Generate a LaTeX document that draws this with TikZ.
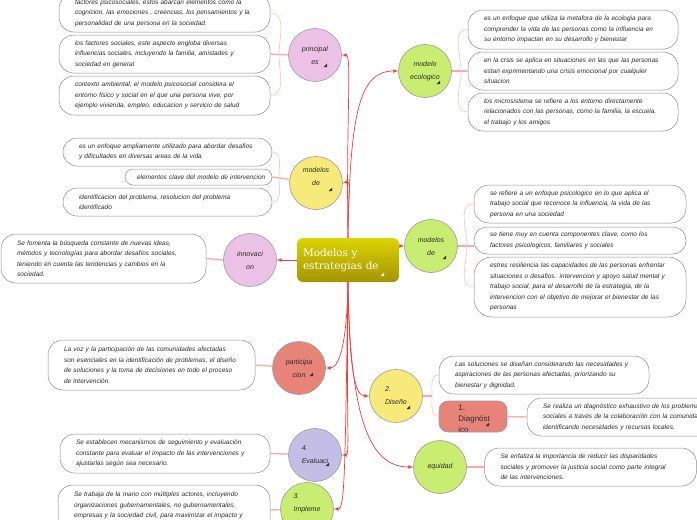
\documentclass[tikz,border=0pt]{standalone}
\usepackage{fontspec}
\setsansfont{Liberation Sans}
\newfontfamily\rootfont{DejaVu Serif}
\usepackage{tikz}
\usetikzlibrary{%
	arrows,%
	shapes
}

\definecolor{linkred}{HTML}{F23C3C}
\definecolor{branchpink}{HTML}{FFA8A8}
\definecolor{bracepink}{HTML}{FFC4C4}
\definecolor{boxgray}{HTML}{8C8C8C}
\definecolor{ringgray}{HTML}{9C9C9C}
\definecolor{pinkc}{HTML}{ECC1E6}
\definecolor{yellowc}{HTML}{F7EA7B}
\definecolor{salmonc}{HTML}{E8837A}
\definecolor{lilacc}{HTML}{C4BEE6}
\definecolor{greenc}{HTML}{C9ED71}
\definecolor{rootlight}{HTML}{DCD300}
\definecolor{rootdark}{HTML}{A39500}
\definecolor{inktext}{HTML}{2B2B2B}

\tikzset{
	root/.style={rectangle, rounded corners=6pt, top color=rootlight, bottom color=rootdark,
		minimum width=102pt, minimum height=44pt, text width=90pt, inner xsep=6pt,
		align=left, text=white, font=\rootfont\fontsize{10.5}{13}\selectfont},
	topic/.style={circle, draw=ringgray, line width=0.6pt, minimum size=53pt, inner sep=0pt,
		align=center, text=inktext, font=\sffamily\itshape\fontsize{7}{13}\selectfont},
	note/.style={draw=boxgray, fill=white, line width=0.5pt, rounded corners=15pt,
		inner xsep=16pt, inner ysep=2pt, align=left, text=inktext,
		font=\sffamily\itshape\fontsize{6.5}{10.5}\selectfont},
	link/.style={draw=linkred, line width=0.7pt, -latex},
	branch/.style={draw=branchpink, line width=1.3pt},
	brace/.style={draw=bracepink, line width=0.7pt}
}

% small fold marker in the corner of a topic
\newcommand{\foldmark}[3][black!80]{\fill[#1] ([shift={#3}]#2.center) -- ++(0,3.5) -- ++(-3.5,-3.5) -- cycle;}

\begin{document}
\begin{tikzpicture}[x=1pt,y=1pt]
	\useasboundingbox (0,0) rectangle (697,-520);

	% Central topic
	\node[root] (root) at (348,-260) {Modelos y\\estrategias de};
	\foldmark[white]{root}{(36,-16)}

	% Topics on the left
	\node[topic, fill=pinkc] (princ) at (315,-55) {principal\\es};
	\node[topic, fill=yellowc] (mleft) at (316,-183) {modelos\\de\\\mbox{}};
	\node[topic, fill=pinkc] (innov) at (250,-260) {innovaci\\on};
	\node[topic, fill=salmonc] (partic) at (299,-368) {participa\\cion};
	\node[topic, fill=lilacc, align=left] (eval) at (315,-455) {4.\\Evaluaci};
	\node[topic, fill=greenc, align=left] (impl) at (307,-509) {3.\\Impleme\\\mbox{}};
	\foldmark{princ}{(12,-12)}
	\foldmark{mleft}{(16,-8)}
	\foldmark{partic}{(14,-8)}
	\foldmark{eval}{(14,-11)}

	% Topics on the right
	\node[topic, fill=greenc] (eco) at (425,-71) {modelo\\ecologico};
	\node[topic, fill=greenc] (mright) at (431,-246) {modelos\\de};
	\node[topic, fill=yellowc, align=left] (dis) at (396,-396) {2.\\Diseño};
	\node[topic, fill=greenc] (equi) at (440,-467) {equidad};
	\node[rectangle, rounded corners=9pt, fill=salmonc, draw=ringgray, line width=0.6pt,
		minimum width=68pt, minimum height=31pt,
		path picture={\node[anchor=north west, align=left, inner sep=0pt, text=inktext,
			draw=none, fill=none, minimum width=0pt, minimum height=0pt,
			font=\sffamily\fontsize{8}{11}\selectfont] (diagtxt)
			at ([xshift=19pt,yshift=-3.5pt]path picture bounding box.north west) {1.\\Diagnóst\\ico};}]
		(diag) at (473,-416.5) {};
	\foldmark{eco}{(15,-13)}
	\foldmark{mright}{(15,-13)}
	\foldmark{dis}{(14,-13)}
	\foldmark{diag}{(16,-9.5)}

	% Notes on the left
	\node[note, text width=179pt, minimum height=38pt] (L1) at (164.5,-13) {factores psicosociales, estos abarcan elementos como la\\cognicion, las emociones , creencias, los pensamientos y la\\personalidad de una persona en la sociedad.};
	\node[note, text width=179pt, minimum height=38pt] (L2) at (164.5,-54) {los factores sociales, este aspecto  engloba diversas\\influencias sociales, incluyendo la familia, amistades y\\sociedad en general};
	\node[note, text width=179pt, minimum height=39pt] (L3) at (164.5,-95.5) {contexto ambiental, el modelo psicosocial considera el\\entorno fisico y social en el que una persona vive, por\\ejemplo vivienda, empleo, educacion y servicio de salud};
	\node[note, text width=177pt, minimum height=28pt, rounded corners=14pt] (M1) at (167.5,-152) {es un enfoque ampliamente utilizado para abordar desafios\\y dificultades en diversas areas de la vida};
	\node[note, text width=139pt, inner xsep=4pt, minimum height=16pt, rounded corners=8pt] (M2) at (198.5,-177) {\hspace*{8pt}elementos clave del modelo de intervencion};
	\node[note, text width=177pt, minimum height=28pt, rounded corners=14pt] (M3) at (167.5,-202) {identificacion del problema, resolucion del problema\\identificado};
	\node[note, text width=173pt, minimum height=49pt] (I) at (103.5,-258.5) {Se fomenta la búsqueda constante de nuevas ideas,\\métodos y tecnologías para abordar desafíos sociales,\\teniendo en cuenta las tendencias y cambios en la\\sociedad.};
	\node[note, text width=175pt, minimum height=50pt] (P) at (151.5,-365) {La voz y la participación de las comunidades afectadas\\son esenciales en la identificación de problemas, el diseño\\de soluciones y la toma de decisiones en todo el proceso\\de intervención.};
	\node[note, text width=178pt, minimum height=39pt] (E) at (165,-453.5) {Se establecen mecanismos de seguimiento y evaluación\\constante para evaluar el impacto de las intervenciones y\\ajustarlas según sea necesario.};
	\node[note, text width=180pt, minimum height=50pt] (Imp) at (164,-510) {Se trabaja de la mano con múltiples actores, incluyendo\\organizaciones gubernamentales, no gubernamentales,\\empresas y la sociedad civil, para maximizar el impacto y\\\mbox{}};

	% Notes on the right
	\node[note, text width=178pt, minimum height=39pt] (R1) at (573,-29.5) {es un enfoque que utiliza la metafora de la ecologia para\\comprender la vida de las personas como la influencia en\\su entorno impactan en su desarrollo y bienestar};
	\node[note, text width=178pt, minimum height=38pt] (R2) at (573,-71) {en la crsis se aplica en situaciones en las que las personas\\estan exprimentando una crisis emocional por cualquier\\situacion};
	\node[note, text width=178pt, minimum height=38pt] (R3) at (573,-112) {los microsistema se refiere a los entorno directamente\\relacionados con las personas, como la familia, la escuela,\\el trabajo y los amigos};
	\node[note, text width=180pt, minimum height=38pt] (S1) at (580,-204) {se refiere a un enfoque psicologico en lo que aplica el\\trabajo social que reconoce la influencia, la vida de las\\persona en una sociedad};
	\node[note, text width=180pt, minimum height=27pt, rounded corners=13pt] (S2) at (580,-240.5) {se tiene muy en cuenta componentes clave, como los\\factores psicologicos, familiares y sociales};
	\node[note, text width=180pt, minimum height=60pt, rounded corners=18pt] (S3) at (580,-287) {estres resiliencia las capacidades de las personas enfrentar\\situaciones o desafios. intervencion y apoyo salud mental y\\trabajo social, para el desarrollo de la estrategia, de la\\intervencion con el objetivo de mejorar el bienestar de las\\personas};
	\node[note, text width=178pt, minimum height=38pt] (D) at (544,-375) {Las soluciones se diseñan considerando las necesidades y\\aspiraciones de las personas afectadas, priorizando su\\bienestar y dignidad.};
	\node[note, text width=178pt, minimum height=38pt] (DT) at (632,-417) {Se realiza un diagnóstico exhaustivo de los problemas\\sociales a través de la colaboración con la comunidad,\\identificando necesidades y recursos locales.};
	\node[note, text width=180pt, minimum height=38pt] (Eq) at (590.5,-467) {Se enfatiza la importancia de reducir las disparidades\\sociales y promover la justicia social como parte integral\\de las intervenciones.};

	% Links from the central topic
	\draw[link] (root.north) .. controls (346,-120) and (352,-55) .. (princ.east);
	\draw[link] (root.north) .. controls (347,-205) and (352,-181) .. (mleft.east);
	\draw[link] (root.north) .. controls (350,-110) and (360,-71) .. (eco.west);
	\draw[link] (root.east |- mright.west) -- (mright.west);
	\draw[link] (root.west) -- (innov.east);
	\draw[link] (root.south) .. controls (347,-340) and (340,-368) .. (partic.east);
	\draw[link] (root.south) .. controls (349,-370) and (355,-396) .. (dis.west);
	\draw[link] (root.south) .. controls (346,-420) and (350,-455) .. (eval.east);
	\draw[link] (root.south) .. controls (345,-470) and (345,-509) .. (impl.east);
	\draw[link] (root.south) .. controls (350,-420) and (370,-467) .. (equi.west);

	% Branches to the notes
	\coordinate (hubP) at (279,-55);
	\coordinate (hubM) at (279,-177);
	\coordinate (hubE) at (461,-71);
	\coordinate (hubR) at (467,-246);
	\coordinate (hubD) at (432,-396);
	\draw[branch] (princ.west) -- (L2.east);
	\draw[brace] (L1.east) to[out=0,in=90] (hubP) to[out=-90,in=0] (L3.east);
	\draw[branch] (mleft) -- (M2.east);
	\draw[brace] (M1.east) to[out=0,in=90] (hubM) to[out=-90,in=0] (M3.east);
	\draw[branch] (innov.west) -- (I.east);
	\draw[branch] (partic) -- (P.east);
	\draw[branch] (eval) -- (E.east);
	\draw[branch] (impl) -- (Imp.east);
	\draw[branch] (eco.east) -- (R2.west);
	\draw[brace] (R1.west) to[out=180,in=90] (hubE) to[out=-90,in=180] (R3.west);
	\draw[branch] (mright.east) -- (mright.east -| S2.west);
	\draw[brace] (S1.west) to[out=180,in=90] (hubR) to[out=-90,in=180] (S3.west);
	\draw[branch] (dis.east) -- (hubD);
	\draw[brace] (D.west) to[out=180,in=90] (hubD) to[out=-90,in=180] (diag.west);
	\draw[branch] (diag.east) -- (DT.west);
	\draw[branch] (equi.east) -- (Eq.west);
\end{tikzpicture}
\end{document}
